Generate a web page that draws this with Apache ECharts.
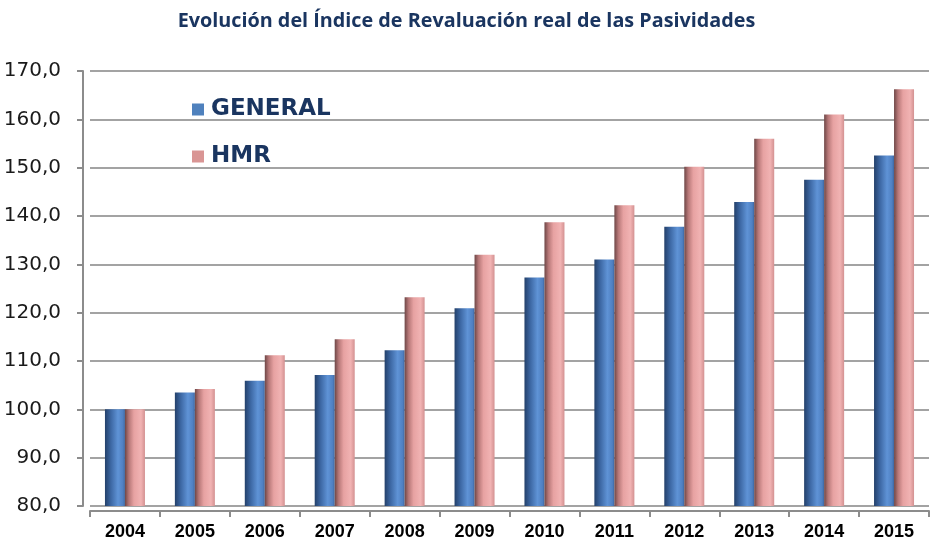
<!DOCTYPE html>
<html>
<head>
<meta charset="utf-8">
<script src="https://cdn.jsdelivr.net/npm/echarts@6/dist/echarts.min.js"></script>
<style>
  html, body { margin: 0; padding: 0; background: #fff; }
  #chart { width: 933px; height: 547px; }
</style>
</head>
<body>
<div id="chart"></div>
<script>
// data
var years = ['2004', '2005', '2006', '2007', '2008', '2009', '2010', '2011', '2012', '2013', '2014', '2015'];
var general = [100.0, 103.5, 105.9, 107.1, 112.2, 120.9, 127.3, 131.0, 137.8, 142.9, 147.5, 152.5];
var hmr = [100.0, 104.2, 111.2, 114.5, 123.2, 132.0, 138.7, 142.2, 150.2, 156.0, 161.0, 166.2];
var seriesNames = ['GENERAL', 'HMR'];

var navy = '#1a3560';

// cylinder-like shading, same as the excel 3d bars
function shade(stops) {
    return new echarts.graphic.LinearGradient(0, 0, 1, 0, stops.map(function (s) {
        return { offset: s[0], color: s[1] };
    }));
}
var blueFill = shade([[0, '#23406a'], [0.3, '#3d68a4'], [0.65, '#5f93d6'], [0.9, '#4f80c2'], [1, '#3d669f']]);
var pinkFill = shade([[0, '#6e4646'], [0.2, '#b77878'], [0.45, '#e7a2a2'], [0.8, '#f1b3b3'], [1, '#d39191']]);

var chart = echarts.init(document.getElementById('chart'));
chart.setOption({
    animation: false,
    title: {
        text: 'Evolución del Índice de Revaluación real de las Pasividades',
        left: 'center',
        top: 6,
        textStyle: { fontFamily: 'Open Sans', fontWeight: 'bold', fontSize: 19.8, color: navy }
    },
    legend: {
        orient: 'vertical',
        left: 187,
        top: 93,
        itemWidth: 12,
        itemHeight: 12,
        itemGap: 24,
        icon: 'rect',
        textStyle: { fontFamily: 'DejaVu Sans', fontWeight: 'bold', fontSize: 23, color: navy, padding: [0, 0, 0, 2] },
        data: [
            { name: seriesNames[0], itemStyle: { color: '#4f81bd' } },
            { name: seriesNames[1], itemStyle: { color: '#d99594' } }
        ]
    },
    grid: { left: 90, right: 4, top: 71, bottom: 41 },
    xAxis: {
        type: 'category',
        data: years,
        offset: 5,
        axisLine: { lineStyle: { color: '#8c8c8c', width: 2 } },
        axisTick: { show: true, length: 6, lineStyle: { color: '#8c8c8c', width: 2 } },
        axisLabel: { fontFamily: 'Liberation Sans', fontWeight: 'bold', fontSize: 18, color: '#000', margin: 12 }
    },
    yAxis: {
        type: 'value',
        min: 80,
        max: 170,
        interval: 10,
        offset: 7,
        axisLine: { show: true, lineStyle: { color: '#8c8c8c', width: 2 } },
        axisTick: { show: true, length: 6, lineStyle: { color: '#8c8c8c', width: 2 } },
        splitLine: { lineStyle: { color: '#a3a3a3', width: 2 } },
        axisLabel: {
            fontFamily: 'DejaVu Sans',
            fontSize: 20,
            color: '#1a1a1a',
            margin: 22,
            formatter: function (v) { return v.toFixed(1).replace('.', ','); }
        }
    },
    series: [
        {
            name: seriesNames[0],
            type: 'bar',
            data: general,
            barWidth: 20,
            barGap: '0%',
            itemStyle: { color: blueFill }
        },
        {
            name: seriesNames[1],
            type: 'bar',
            data: hmr,
            barWidth: 20,
            itemStyle: { color: pinkFill }
        }
    ]
});
</script>
</body>
</html>
